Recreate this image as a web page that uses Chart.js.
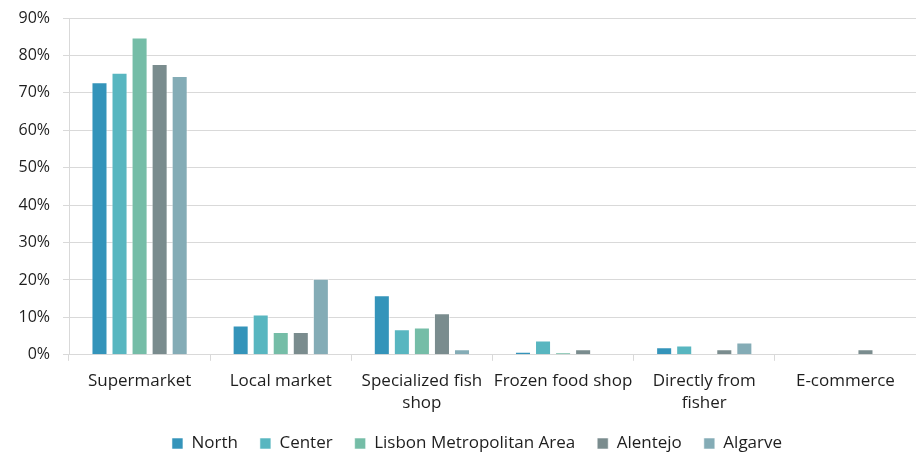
<!DOCTYPE html>
<html>
<head>
<meta charset="utf-8">
<script src="https://cdn.jsdelivr.net/npm/chart.js@4/dist/chart.umd.min.js"></script>
<style>
  body { margin:0; background:#fff; }
  #wrap { width:916px; height:452px; }
</style>
</head>
<body>
<div id="wrap"><canvas id="chartShop"></canvas></div>
<script>
// where people buy fish, % of respondents per region
var shopLabels = ["Supermarket", "Local market", ["Specialized fish", "shop"], "Frozen food shop", ["Directly from", "fisher"], "E-commerce"];
var north    = [72.8, 7.8, 15.9, 0.8, 2.0, 0.2];
var center   = [75.4, 10.8, 6.8, 3.8, 2.5, 0];
var lisbon   = [84.8, 6.1, 7.3, 0.7, 0.2, 0.2];
var alentejo = [77.7, 6.1, 11.1, 1.5, 1.5, 1.5];
var algarve  = [74.5, 20.3, 1.5, 0, 3.3, 0];
var yTicks   = [0, 10, 20, 30, 40, 50, 60, 70, 80, 90];

var textColor = '#1e1e1e';
Chart.defaults.font.family = "'Open Sans', sans-serif";
Chart.defaults.font.size = 16;
Chart.defaults.color = textColor;

function ds(label, data, color) {
    return {
        label: label,
        data: data,
        backgroundColor: color,
        borderColor: 'rgba(255,255,255,0.55)',
        borderWidth: 1,
        barPercentage: 0.8,
        categoryPercentage: 0.71
    };
}

// nudge the legend to the right of the canvas centre
var legendShift = {
    id: 'legendShift',
    afterLayout: function (chart) {
        chart.legend.left += 19;
        chart.legend.right += 19;
    }
};

var ctx = document.getElementById("chartShop");
var chartShop = new Chart(ctx, {
    type: "bar",
    plugins: [legendShift],
    data: {
        labels: shopLabels,
        datasets: [
            ds("North", north, '#3494BA'),
            ds("Center", center, '#58B6C0'),
            ds("Lisbon Metropolitan Area", lisbon, '#75BDA7'),
            ds("Alentejo", alentejo, '#7A8C8E'),
            ds("Algarve", algarve, '#84ACB6')
        ]
    },
    options: {
        responsive: true,
        maintainAspectRatio: false,
        animation: false,
        layout: { padding: { top: 18, right: 0, left: 0, bottom: -10 } },
        plugins: {
            tooltip: { enabled: false },
            legend: {
                position: 'bottom',
                labels: {
                    boxWidth: 11,
                    boxHeight: 11,
                    padding: 22,
                    color: textColor,
                    font: { size: 17 }
                }
            }
        },
        scales: {
            x: {
                grid: {
                    offset: true,
                    drawOnChartArea: false,
                    color: '#d9d9d9',
                    tickLength: 6,
                    lineWidth: 1
                },
                border: { color: '#d9d9d9' },
                afterFit: function (scale) { scale.height = scale.height - 10; },
                ticks: { padding: 9, maxRotation: 0, autoSkip: false, color: textColor, font: { size: 17, lineHeight: 1.3 } }
            },
            y: {
                min: 0,
                max: 90,
                afterBuildTicks: function (scale) {
                    scale.ticks = yTicks.map(function (v) { return { value: v }; });
                },
                afterFit: function (scale) {
                    scale.width = 69;
                    scale.paddingTop = 0;
                },
                grid: { color: '#d9d9d9', tickLength: 6, lineWidth: 1 },
                border: { color: '#d9d9d9' },
                ticks: {
                    padding: 13,
                    color: textColor,
                    font: { size: 16 },
                    callback: function (v) { return v + '%'; }
                }
            }
        }
    }
});
</script>
</body>
</html>
